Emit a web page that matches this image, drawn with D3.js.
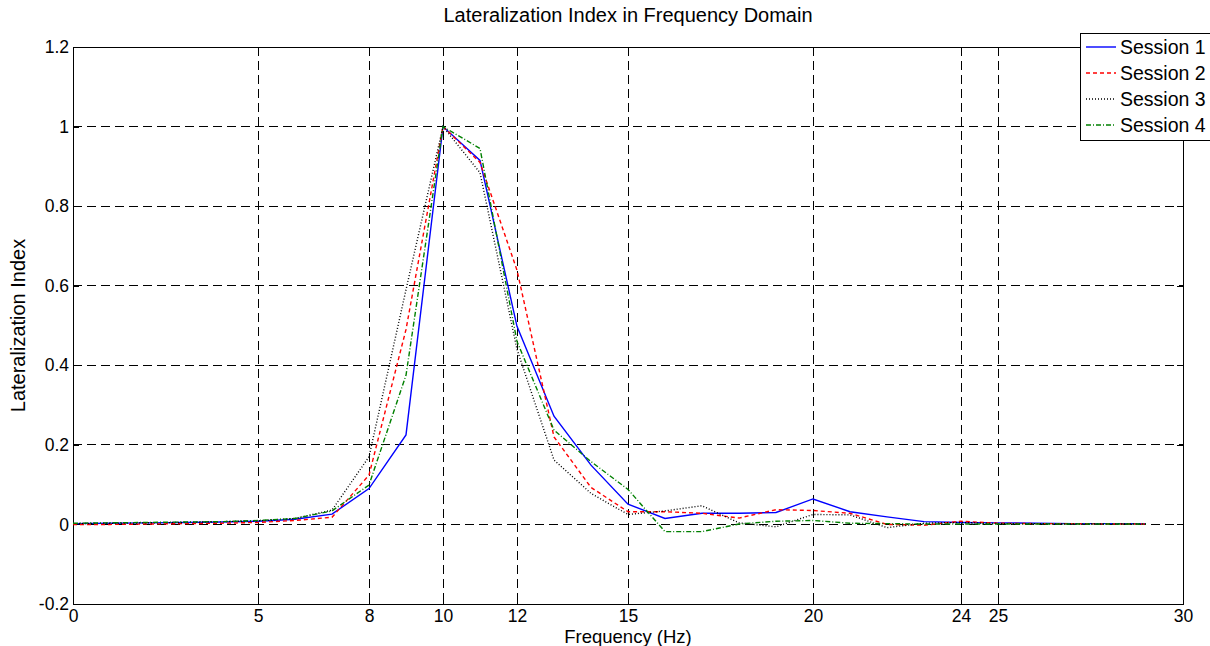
<!DOCTYPE html>
<html>
<head>
<meta charset="utf-8">
<script src="https://cdn.jsdelivr.net/npm/d3@7"></script>
<style>
  body { margin: 0; background: #fff; }
  svg { display: block; font-family: "Liberation Sans", Arial, sans-serif; }
</style>
</head>
<body>
<div id="chart"></div>
<script>
// data: lateralization index per frequency bin (Hz)
const freqs = d3.range(0, 30);
const session1 = [0.002, 0.003, 0.004, 0.005, 0.006, 0.008, 0.013, 0.026, 0.09, 0.225, 1.0, 0.915, 0.498, 0.272, 0.149, 0.051, 0.015, 0.028, 0.028, 0.03, 0.064, 0.032, 0.019, 0.007, 0.005, 0.004, 0.003, 0.002, 0.002, 0.002];
const session2 = [0.0, 0.0, 0.001, 0.002, 0.003, 0.005, 0.01, 0.018, 0.124, 0.49, 1.0, 0.91, 0.639, 0.22, 0.093, 0.032, 0.032, 0.028, 0.016, 0.037, 0.035, 0.028, 0.0, -0.002, 0.008, 0.003, 0.002, 0.002, 0.001, 0.001];
const session3 = [0.002, 0.003, 0.004, 0.005, 0.007, 0.009, 0.015, 0.036, 0.17, 0.59, 1.0, 0.884, 0.44, 0.162, 0.078, 0.025, 0.034, 0.047, 0.004, -0.006, 0.025, 0.024, -0.008, 0.003, 0.005, 0.002, 0.002, 0.001, 0.001, 0.001];
const session4 = [0.003, 0.004, 0.005, 0.006, 0.007, 0.01, 0.015, 0.034, 0.099, 0.375, 1.0, 0.945, 0.46, 0.237, 0.158, 0.088, -0.018, -0.018, 0.001, 0.008, 0.01, 0.003, 0.002, 0.001, 0.001, 0.001, 0.001, 0.001, 0.001, 0.001];

const sessionNames = ["Session 1", "Session 2", "Session 3", "Session 4"];
const xTicks = [0, 5, 8, 10, 12, 15, 20, 24, 25, 30];
const yTicks = [-0.2, 0, 0.2, 0.4, 0.6, 0.8, 1, 1.2];

const styles = [
    {color: "#0000ff", dash: null},
    {color: "#ff0000", dash: "4,3"},
    {color: "#000000", dash: "1,2"},
    {color: "#008000", dash: "5,2,1,2"}
];

const W = 1210, H = 646;
const margin = {top: 47, right: 27, bottom: 42, left: 73};
const width = W - margin.left - margin.right;
const height = H - margin.top - margin.bottom;

const svg = d3.select("#chart").append("svg")
    .attr("width", W)
    .attr("height", H);

const g = svg.append("g")
    .attr("transform", `translate(${margin.left},${margin.top})`);

// scales
const x = d3.scaleLinear().domain([0, 30]).range([0, width]);
const y = d3.scaleLinear().domain([-0.2, 1.2]).range([height, 0]);

// grid
g.append("g").selectAll("line")
    .data(xTicks.filter(d => d > 0 && d < 30))
    .enter().append("line")
    .attr("x1", d => x(d)).attr("x2", d => x(d))
    .attr("y1", 0).attr("y2", height)
    .attr("stroke", "#000").attr("stroke-width", 1)
    .attr("stroke-dasharray", "9,5")
    .attr("shape-rendering", "crispEdges");

g.append("g").selectAll("line")
    .data(yTicks.filter(d => d > -0.2 && d < 1.2))
    .enter().append("line")
    .attr("x1", 0).attr("x2", width)
    .attr("y1", d => y(d)).attr("y2", d => y(d))
    .attr("stroke", "#000").attr("stroke-width", 1)
    .attr("stroke-dasharray", "9,5")
    .attr("shape-rendering", "crispEdges");

// axes (ticks inside)
const fmtY = d => String(+d.toFixed(1));
const xAxis = d3.axisBottom(x).tickValues(xTicks).tickSize(-6).tickPadding(6).tickFormat(d3.format("d"));
const yAxis = d3.axisLeft(y).tickValues(yTicks).tickSize(-6).tickPadding(4).tickFormat(fmtY);

const gx = g.append("g").attr("transform", `translate(0,${height})`).call(xAxis);
const gy = g.append("g").call(yAxis);
g.append("g").call(d3.axisTop(x).tickValues(xTicks).tickSize(-6).tickFormat(""));
g.append("g").attr("transform", `translate(${width},0)`).call(d3.axisRight(y).tickValues(yTicks).tickSize(-6).tickFormat(""));

g.selectAll(".domain").remove();
g.selectAll(".tick line").attr("stroke", "#000").attr("shape-rendering", "crispEdges");
g.selectAll(".tick text").attr("fill", "#000").style("font-size", "17.5px");
gx.selectAll(".tick text").attr("dy", "0.71em");

g.append("rect")
    .attr("width", width).attr("height", height)
    .attr("fill", "none").attr("stroke", "#000").attr("stroke-width", 1)
    .attr("shape-rendering", "crispEdges");

// lines
const series = [session1, session2, session3, session4];
const line = d3.line().x((d, i) => x(freqs[i])).y(d => y(d));

series.forEach((s, i) => {
    g.append("path")
        .datum(s)
        .attr("fill", "none")
        .attr("stroke", styles[i].color)
        .attr("stroke-width", 1.4)
        .attr("stroke-dasharray", styles[i].dash)
        .attr("d", line);
});

// titles
svg.append("text")
    .attr("x", margin.left + width / 2).attr("y", 22)
    .attr("text-anchor", "middle").style("font-size", "20px")
    .text("Lateralization Index in Frequency Domain");

svg.append("text")
    .attr("x", margin.left + width / 2).attr("y", 643)
    .attr("text-anchor", "middle").style("font-size", "18.5px")
    .text("Frequency (Hz)");

svg.append("text")
    .attr("transform", `translate(25,${margin.top + height / 2}) rotate(-90)`)
    .attr("text-anchor", "middle").style("font-size", "20px")
    .text("Lateralization Index");

// legend
const legend = svg.append("g").attr("transform", "translate(1080,33)");
legend.append("rect")
    .attr("width", 135).attr("height", 107)
    .attr("fill", "#fff").attr("stroke", "#000")
    .attr("shape-rendering", "crispEdges");

sessionNames.forEach((name, i) => {
    const ly = 14 + i * 26;
    legend.append("line")
        .attr("x1", 6).attr("x2", 36)
        .attr("y1", ly).attr("y2", ly)
        .attr("stroke", styles[i].color)
        .attr("stroke-width", 1.4)
        .attr("stroke-dasharray", styles[i].dash);
    legend.append("text")
        .attr("x", 40).attr("y", ly + 7)
        .style("font-size", "19.5px")
        .text(name);
});
</script>
</body>
</html>
